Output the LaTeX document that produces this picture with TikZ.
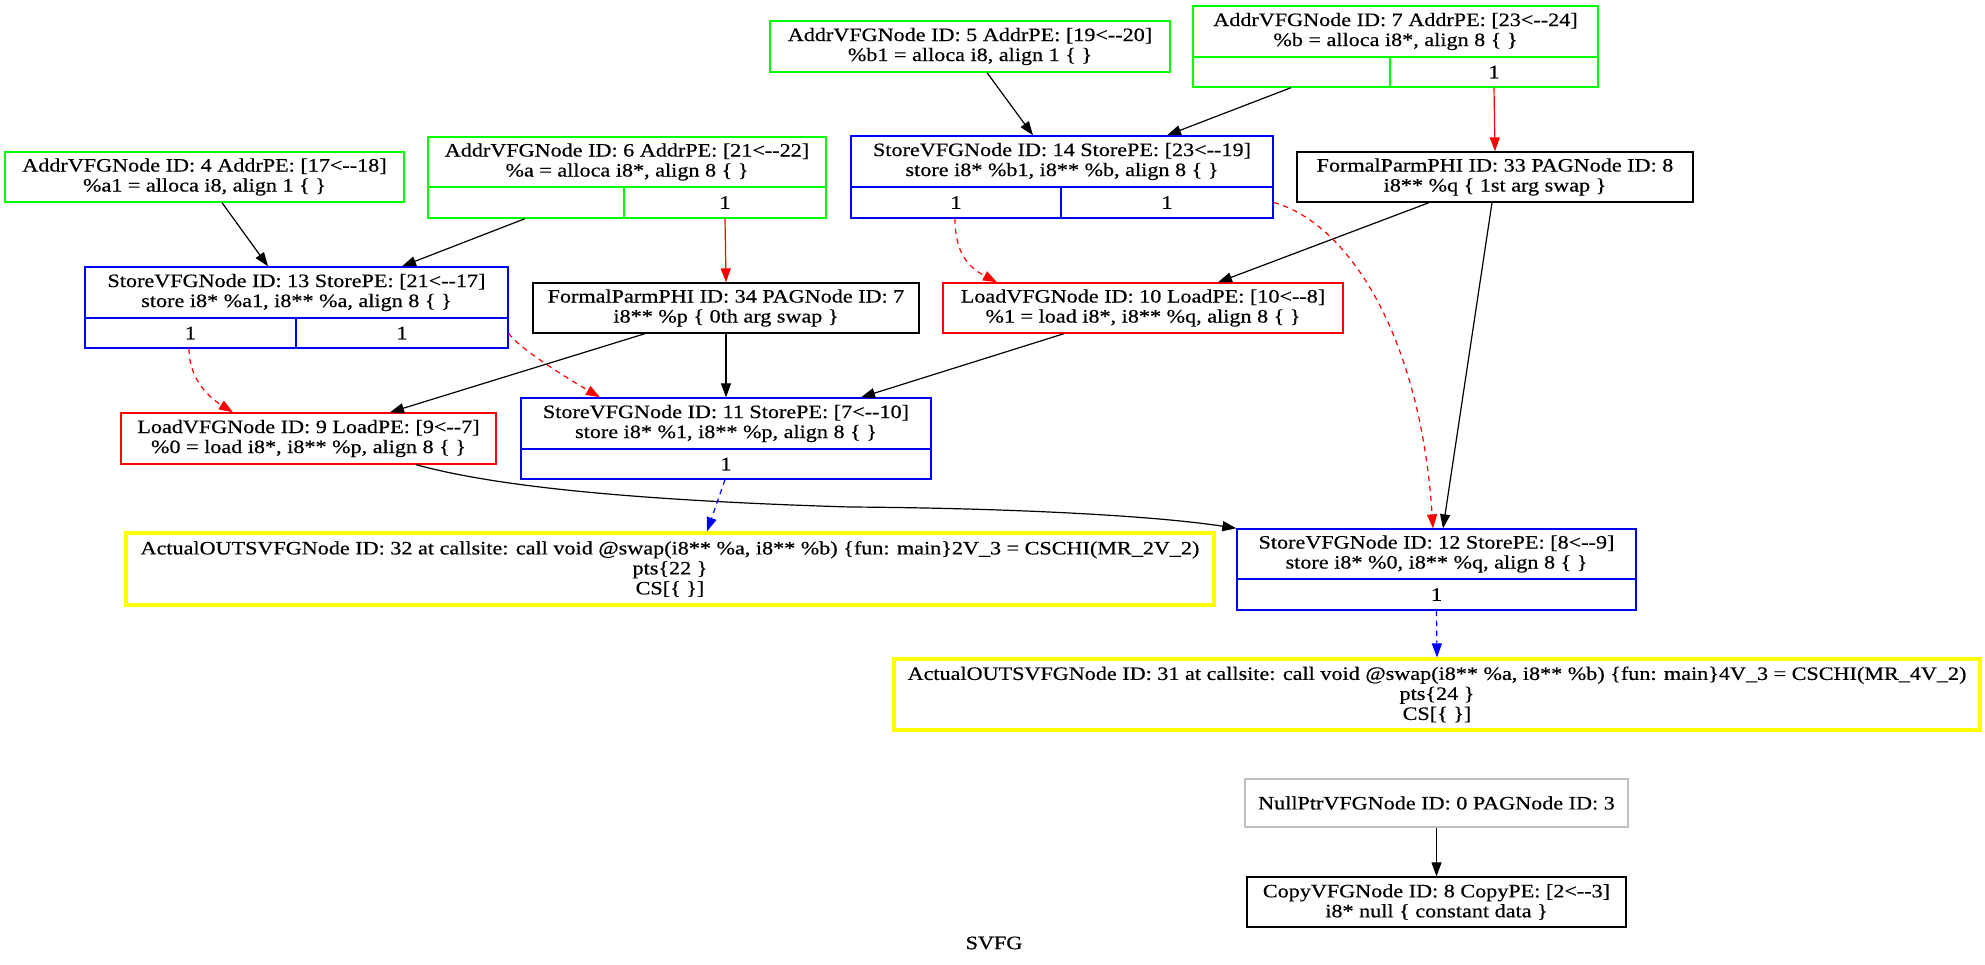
\documentclass[tikz,border=0pt]{standalone}
\usepackage{fontspec}
\setmainfont{Liberation Serif}[FakeStretch=1.17, FakeBold=0.5]
\usetikzlibrary{arrows.meta,calc}
\definecolor{vgreen}{RGB}{0,255,0}
\definecolor{vblue}{RGB}{0,0,255}
\definecolor{vred}{RGB}{255,0,0}
\definecolor{vyellow}{RGB}{255,255,0}
\definecolor{vgrey}{RGB}{192,192,192}
\tikzset{
  rec/.style={draw, rectangle, inner sep=0pt, align=center, line width=1pt},
  wh/.style 2 args={minimum width=#1*0.75pt, minimum height=#2*0.75pt},
  addr/.style={rec, draw=vgreen},
  store/.style={rec, draw=vblue},
  load/.style={rec, draw=vred},
  phi/.style={rec, draw=black},
  aout/.style={rec, draw=vyellow, line width=2.4pt},
  nullp/.style={rec, draw=vgrey},
  flow/.style={-{Triangle[length=10.5pt,width=7.5pt]}, line width=0.9pt},
  dflow/.style={flow, draw=vred, -{Triangle[length=10.5pt,width=7.5pt,fill=vred]}},
  indir/.style={dflow, dash pattern=on 4pt off 3.5pt},
  mssa/.style={flow, draw=vblue, -{Triangle[length=10.5pt,width=7.5pt,fill=vblue]}, dash pattern=on 4pt off 3.5pt}
}

\begin{document}
\begin{tikzpicture}[x=0.75pt, y=-0.75pt, font=\fontsize{14.2}{15}\selectfont]
  \useasboundingbox (0,0) rectangle (1985,964);

  % top row
  \node[addr, wh={400}{51}] (n5) at (970,46.5) {AddrVFGNode ID: 5 AddrPE: [19<-{}-20]\\\%b1 = alloca i8, align 1 \{ \}};
  \node[addr, wh={405}{51}] (n7) at (1395.5,31.5) {AddrVFGNode ID: 7 AddrPE: [23<-{}-24]\\\%b = alloca i8*, align 8 \{ \}};
  \node[addr, wh={197}{30}] (n7a) at (1291.5,72) {};
  \node[addr, wh={208}{30}] (n7b) at (1494,72) {1};

  \node[addr, wh={399}{50}] (n4) at (204.5,177) {AddrVFGNode ID: 4 AddrPE: [17<-{}-18]\\\%a1 = alloca i8, align 1 \{ \}};
  \node[addr, wh={398}{50}] (n6) at (627,162) {AddrVFGNode ID: 6 AddrPE: [21<-{}-22]\\\%a = alloca i8*, align 8 \{ \}};
  \node[addr, wh={196}{31}] (n6a) at (526,202.5) {};
  \node[addr, wh={202}{31}] (n6b) at (725,202.5) {1};

  \node[store, wh={422}{51}] (n14) at (1062,161.5) {StoreVFGNode ID: 14 StorePE: [23<-{}-19]\\store i8* \%b1, i8** \%b, align 8 \{ \}};
  \node[store, wh={210}{31}] (n14a) at (956,202.5) {1};
  \node[store, wh={212}{31}] (n14b) at (1167,202.5) {1};

  \node[phi, wh={396}{50}] (n33) at (1495,177) {FormalParmPHI ID: 33 PAGNode ID: 8\\i8** \%q \{ 1st arg swap \}};

  % middle rows
  \node[store, wh={423}{51}] (n13) at (296.5,292.5) {StoreVFGNode ID: 13 StorePE: [21<-{}-17]\\store i8* \%a1, i8** \%a, align 8 \{ \}};
  \node[store, wh={211}{30}] (n13a) at (190.5,333) {1};
  \node[store, wh={212}{30}] (n13b) at (402,333) {1};

  \node[phi, wh={386}{50}] (n34) at (726,308) {FormalParmPHI ID: 34 PAGNode ID: 7\\i8** \%p \{ 0th arg swap \}};
  \node[load, wh={400}{50}] (n10) at (1143,308) {LoadVFGNode ID: 10 LoadPE: [10<-{}-8]\\\%1 = load i8*, i8** \%q, align 8 \{ \}};

  \node[load, wh={375}{51}] (n9) at (308.5,438.5) {LoadVFGNode ID: 9 LoadPE: [9<-{}-7]\\\%0 = load i8*, i8** \%p, align 8 \{ \}};
  \node[store, wh={410}{51}] (n11) at (726,423.5) {StoreVFGNode ID: 11 StorePE: [7<-{}-10]\\store i8* \%1, i8** \%p, align 8 \{ \}};
  \node[store, wh={410}{30}] (n11a) at (726,464) {1};

  \node[aout, wh={1088}{72}] (n32) at (670,569) {ActualOUTSVFGNode ID: 32 at callsite: call void @swap(i8** \%a, i8** \%b) \{fun: main\}2V\_3 = CSCHI(MR\_2V\_2)\\pts\{22 \}\\CS[\{ \}]};
  \node[store, wh={399}{50}] (n12) at (1436.5,554) {StoreVFGNode ID: 12 StorePE: [8<-{}-9]\\store i8* \%0, i8** \%q, align 8 \{ \}};
  \node[store, wh={399}{31}] (n12a) at (1436.5,594.5) {1};

  % bottom
  \node[aout, wh={1086}{71}] (n31) at (1437,694.5) {ActualOUTSVFGNode ID: 31 at callsite: call void @swap(i8** \%a, i8** \%b) \{fun: main\}4V\_3 = CSCHI(MR\_4V\_2)\\pts\{24 \}\\CS[\{ \}]};
  \node[nullp, wh={383}{48}] (n0) at (1436.5,803) {NullPtrVFGNode ID: 0 PAGNode ID: 3};
  \node[phi, wh={379}{50}] (n8) at (1436.5,902) {CopyVFGNode ID: 8 CopyPE: [2<-{}-3]\\i8* null \{ constant data \}};
  \node (title) at (994,943) {SVFG};

  % edges
  \draw[flow] ($(n5.south)+(17,0)$) -- ($(n14.north)+(-29,0)$);
  \draw[flow] ($(n7a.south)+(-0.5,0)$) -- ($(n14.north)+(105,0)$);
  \draw[dflow] (n7b.south) -- (n33.north);
  \draw[flow] ($(n4.south)+(17.5,0)$) -- ($(n13.north)+(-28.5,0)$);
  \draw[flow] ($(n6a.south)+(-1,0)$) -- ($(n13.north)+(105.5,0)$);
  \draw[dflow] (n6b.south) -- (n34.north);
  \draw[flow] ($(n33.south)+(-66,0)$) -- ($(n10.north)+(75,0)$);
  \draw[flow] ($(n33.south)+(-3,0)$) -- ($(n12.north)+(6.5,0)$);
  \draw[indir] ($(n14a.south)+(-1,0)$) .. controls (955,255) and (970,268) .. ($(n10.north)+(-146,0)$);
  \draw[indir] (n14b.east) .. controls (1345,222) and (1420,330) .. ($(n12.north)+(-3.5,0)$);
  \draw[indir] ($(n13a.south)+(-1.5,0)$) .. controls (189,380) and (210,398) .. ($(n9.north)+(-75.5,0)$);
  \draw[indir] (n13b.east) .. controls (515,345) and (560,374) .. ($(n11.north)+(-126,0)$);
  \draw[flow] ($(n34.south)+(-81,0)$) -- ($(n9.north)+(81.5,0)$);
  \draw[flow] (n34.south) -- (n11.north);
  \draw[flow] ($(n10.south)+(-79,0)$) -- ($(n11.north)+(135,0)$);
  \draw[flow] ($(n9.south)+(107.5,0)$) .. controls (490,485) and (620,500) .. (850,507)
    .. controls (1000,508) and (1150,515) .. (n12.north west);
  \draw[mssa] ($(n11a.south)+(-1,0)$) -- ($(n32.north)+(37,0)$);
  \draw[mssa] (n12a.south) -- (n31.north);
  \draw[flow] (n0.south) -- (n8.north);
\end{tikzpicture}
\end{document}
